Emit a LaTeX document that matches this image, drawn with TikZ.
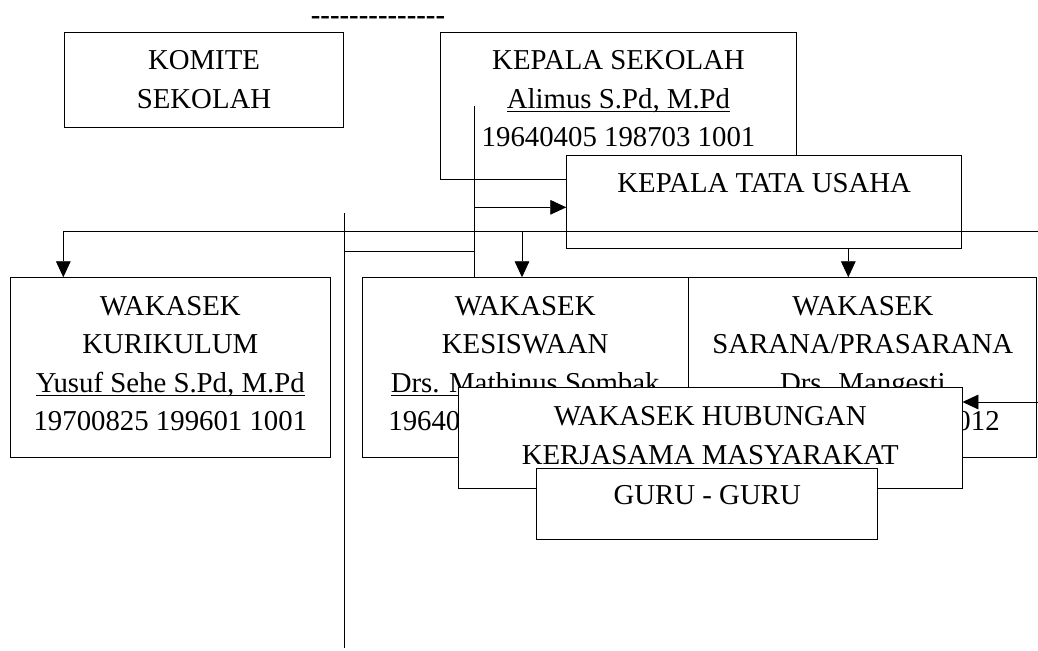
\documentclass[tikz,border=0pt]{standalone}
\usepackage{fontspec}
\setmainfont{Liberation Serif}
\usetikzlibrary{positioning}
\usetikzlibrary{arrows.meta}

\newcommand{\garis}[1]{\setbox0=\hbox{#1}\rlap{\vrule height -2pt depth 3pt width \wd0}\box0}

\begin{document}
\begin{tikzpicture}[x=0.75pt, y=-0.75pt, line width=0.65pt,
  kotak/.style={draw, rectangle, fill=white, inner sep=0pt},
  teks/.style={inner sep=0pt, align=center, font=\fontsize{21.6}{28.9}\selectfont},
  panah/.style={-{Triangle[length=12pt, width=11pt]}}]
  \useasboundingbox (0,0) rectangle (1038,650);

  \node (putus) [teks, font=\fontsize{21.6}{28.9}\selectfont\bfseries] at (378,20.5) {\foreach \i in {1,...,14}{\mbox{-}}};

  % atas
  \node (komite) [kotak, minimum width=209.6pt, minimum height=71pt] at (204,79.65) {};
  \node (t-komite) [teks, below=13.9pt of komite.north] {KOMITE\\SEKOLAH};
  \node (kepsek) [kotak, minimum width=266.7pt, minimum height=110pt] at (618.5,105.65) {};
  \node (t-kepsek) [teks, below=13.9pt of kepsek.north] {KEPALA SEKOLAH\\\garis{Alimus S.Pd, M.Pd}\\19640405 198703 1001};
  \node (tatausaha) [kotak, minimum width=296.25pt, minimum height=69.45pt] at (764.2,202) {};
  \node (t-tatausaha) [teks, below=13.2pt of tatausaha.north] {KEPALA TATA USAHA};

  % wakasek
  \node (kurikulum) [kotak, minimum width=239.5pt, minimum height=134.5pt] at (170.35,367.35) {};
  \node (t-kurikulum) [teks, below=13.9pt of kurikulum.north] {WAKASEK\\KURIKULUM\\\garis{Yusuf Sehe S.Pd, M.Pd}\\19700825 199601 1001};
  \node (kesiswaan) [kotak, minimum width=244.3pt, minimum height=134.5pt] at (525.15,367.35) {};
  \node (t-kesiswaan) [teks, below=13.9pt of kesiswaan.north] {WAKASEK\\KESISWAAN\\\garis{Drs. Mathinus Sombak}\\19640\phantom{000 000000 0000}};
  \node (sarana) [kotak, minimum width=261pt, minimum height=134.5pt, right=0pt of kesiswaan] {};
  \node (t-sarana) [teks, below=13.9pt of sarana.north] {WAKASEK\\SARANA/PRASARANA\\Drs. Mangesti\\\phantom{00000000 000000 1}012};
  \node (humas) [kotak, minimum width=377.7pt, minimum height=75.75pt] at (710.2,437.8) {};
  \node (t-humas) [teks, below=14.5pt of humas.north] {WAKASEK HUBUNGAN\\KERJASAMA MASYARAKAT};
  \node (guru) [kotak, minimum width=255.8pt, minimum height=53.1pt] at (707.25,503.9) {};
  \node (t-guru) [teks, below=13pt of guru.north] {GURU - GURU};

  \coordinate (ks-dalam) at (474,106);
  \coordinate (cabang-tu) at (474,207.3);
  \coordinate (bus-kiri) at (63.3,231.7);
  \coordinate (bus-kanan) at (1038,231.7);
  \coordinate (bus-tengah) at (522,231.7);
  \coordinate (tu-bawah) at (848.3,248.3);
  \coordinate (tiang-atas) at (344,213.3);
  \coordinate (tiang-bawah) at (344,648);
  \coordinate (tiang-cabang) at (344,251.7);
  \coordinate (humas-kanan) at (1038,402);

  % garis
  \draw (ks-dalam) -- (ks-dalam |- kesiswaan.north);
  \draw[panah] (cabang-tu) -- (cabang-tu -| tatausaha.west);
  \draw[panah] (bus-kanan) -- (bus-kiri) -- (bus-kiri |- kurikulum.north);
  \draw[panah] (bus-tengah) -- (bus-tengah |- kesiswaan.north);
  \draw[panah] (tu-bawah) -- (tu-bawah |- sarana.north);
  \draw (tiang-atas) -- (tiang-bawah);
  \draw (tiang-cabang) -- (tiang-cabang -| ks-dalam);
  \draw[panah] (humas-kanan) -- (humas-kanan -| humas.east);
\end{tikzpicture}
\end{document}
